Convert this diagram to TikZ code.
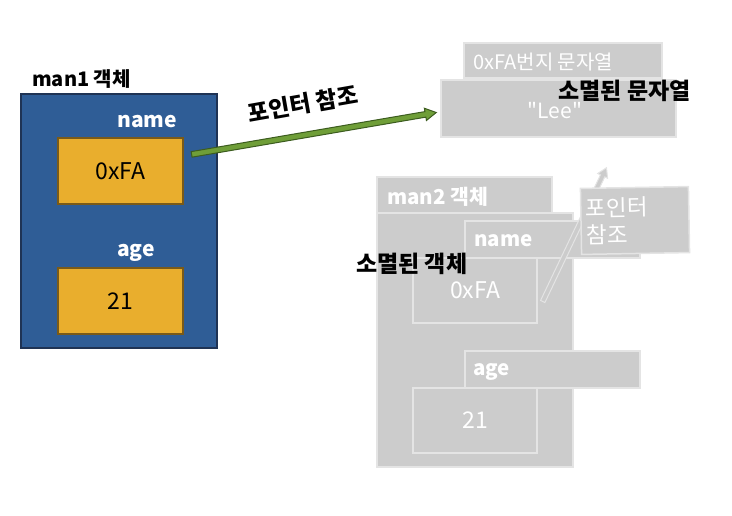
\documentclass[tikz,border=0pt]{standalone}
\usepackage{fontspec}
\setmainfont{Noto Sans CJK KR}
\font\leefont="Noto Sans CJK KR" at 21pt
\usetikzlibrary{calc}
\definecolor{mblue}{HTML}{2F5D96}
\definecolor{mblueb}{HTML}{1F3354}
\definecolor{morange}{HTML}{E9AE2D}
\definecolor{morangeb}{HTML}{7A5A18}
\definecolor{mgreen}{HTML}{6F9E38}
\definecolor{mgreenb}{HTML}{3C5C1F}
\definecolor{mgray}{HTML}{CCCCCC}
\definecolor{mgrayb}{HTML}{E4E4E4}
\begin{document}
\begin{tikzpicture}[x=1pt,y=-1pt,
  objbox/.style={draw=mblueb, fill=mblue, line width=1.2pt, inner sep=0pt},
  valbox/.style={draw=morangeb, fill=morange, line width=1.2pt, inner sep=0pt, font=\fontsize{23}{26}\selectfont},
  gbox/.style={draw=mgrayb, fill=mgray, line width=1.5pt, inner sep=0pt, text=white},
  gval/.style={gbox, font=\fontsize{23}{26}\selectfont},
  lbl/.style={inner sep=0pt, anchor=west, font=\fontsize{20}{22}\selectfont\bfseries},
  wlbl/.style={inner sep=0pt, anchor=west, text=white, font=\fontsize{21}{24}\selectfont\bfseries},
  glbl/.style={inner sep=0pt, anchor=west, text=white, font=\fontsize{20.5}{24}\selectfont\bfseries},
  blbl/.style={inner sep=0pt, font=\fontsize{23}{26}\selectfont\bfseries}
]
\useasboundingbox (0,0) rectangle (732,515);
% ---- man1 ----
\node[objbox, minimum width=196pt, minimum height=254pt] (man1) at (119,221) {};
\node[valbox, minimum width=125pt, minimum height=66pt] (nv1) at (120.5,171) {0xFA};
\node[valbox, minimum width=125pt, minimum height=66pt] (av1) at (120.5,301) {21};
\node[lbl] (man1l) at (32,79) {man1 객체};
\node[wlbl] (nl1) at (117,122) {name};
\node[wlbl] (al1) at (117,253) {age};
% ---- string ----
\node[gbox, minimum width=198pt, minimum height=35pt] (str1) at (563,60.5) {};
\node[inner sep=0pt, anchor=west, text=white, font=\fontsize{20}{24}\selectfont] (str1t) at (473,62) {0xFA번지 문자열};
\node[gval, minimum width=235pt, minimum height=57pt] (str2) at (558.5,108.5) {};
\node[inner sep=0pt, text=white, font=\leefont] (lee) at (555,111) {"Lee"};
\node[blbl, anchor=east] (dstr) at (691,91) {소멸된 문자열};
% ---- green pointer ----
\coordinate (ga) at ($(nv1.north east)+(8,17)$);
\coordinate (gb) at ($(str2.west)+(-4,4)$);
\coordinate (gc) at ($(gb)!11pt!(ga)$);
\draw[fill=mgreen, draw=mgreenb, line width=1pt, line join=miter]
  ($(ga)!2.8pt!90:(gb)$) -- ($(gc)!2.8pt!90:(gb)$) -- ($(gc)!6.2pt!90:(gb)$) -- (gb)
  -- ($(gc)!6.2pt!-90:(gb)$) -- ($(gc)!2.8pt!-90:(gb)$) -- ($(ga)!2.8pt!-90:(gb)$) -- cycle;
\node[blbl, rotate=10] (pt1) at (303,104) {포인터 참조};
% ---- man2 ----
\node[gbox, minimum width=196pt, minimum height=254pt] (man2) at (475,340) {};
\node[gbox, minimum width=175pt, minimum height=36pt] (man2h) at (464.5,195) {};
\node[glbl] (man2l) at (387,197) {man2 객체};
\node[gbox, minimum width=175pt, minimum height=37pt] (nl2b) at (552.5,239.5) {};
\node[glbl] (nl2) at (474,241) {name};
\node[gval, minimum width=124pt, minimum height=65pt] (nv2) at (475,290.5) {0xFA};
\node[gbox, minimum width=175pt, minimum height=37pt] (al2b) at (552.5,369.5) {};
\node[glbl] (al2) at (473,372) {age};
\node[gval, minimum width=124pt, minimum height=65pt] (av2) at (475,420.5) {21};
% ---- gray pointer ----
\coordinate (ha) at ($(nv2.east)+(5,11)$);
\coordinate (hb) at ($(str2.south)+(48,30)$);
\coordinate (hc) at ($(hb)!9pt!(ha)$);
\draw[fill=mgray, draw=mgrayb, line width=1pt, line join=miter]
  ($(ha)!2.4pt!90:(hb)$) -- ($(hc)!2.4pt!90:(hb)$) -- ($(hc)!5.5pt!90:(hb)$) -- (hb)
  -- ($(hc)!5.5pt!-90:(hb)$) -- ($(hc)!2.4pt!-90:(hb)$) -- ($(ha)!2.4pt!-90:(hb)$) -- cycle;
\node[gbox, rotate=1, minimum width=108pt, minimum height=66pt, align=left, anchor=center,
  font=\fontsize{22.5}{27}\selectfont, text width=98pt] (pt2) at (635,220.5) {포인터\\참조};
\node[blbl, anchor=west] (dobj) at (356,264) {소멸된 객체};
\end{tikzpicture}
\end{document}
